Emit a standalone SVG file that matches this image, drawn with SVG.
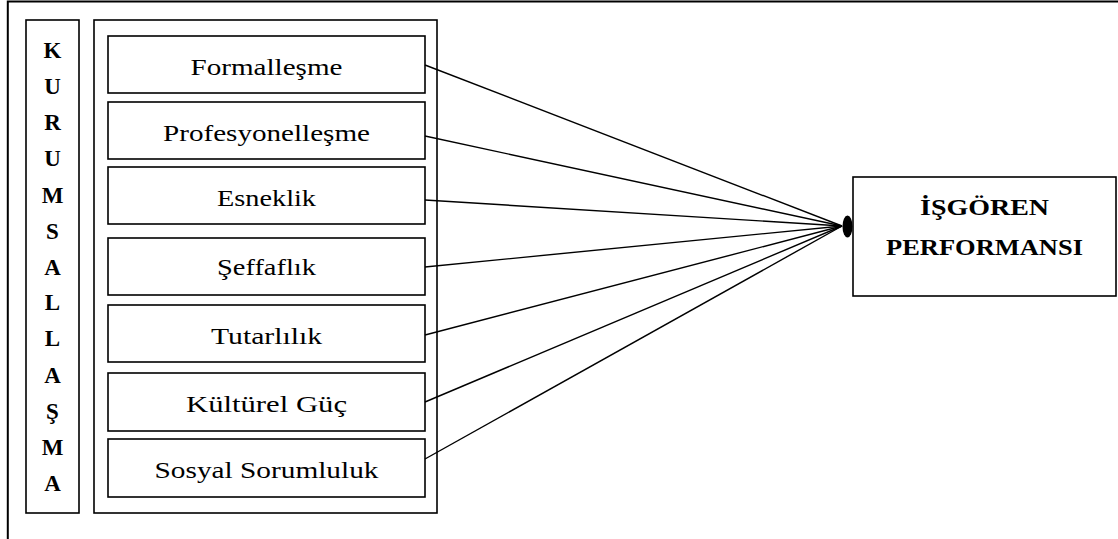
<svg xmlns="http://www.w3.org/2000/svg" width="1118" height="539" viewBox="0 0 1118 539">
<style>
.box{fill:#fff;stroke:#000;stroke-width:1.6}
.frame{fill:none;stroke:#000;stroke-width:2}
.item{font-family:"Liberation Serif","Times New Roman",serif;font-size:23px;fill:#000;text-anchor:middle}
.bold{font-family:"Liberation Serif","Times New Roman",serif;font-size:23px;font-weight:bold;fill:#000;text-anchor:middle}
.conn{stroke:#000;stroke-width:1.4;fill:none}
</style>
<rect width="1118" height="539" fill="#fff"/>
<g id="frame">
<polyline class="frame" points="7.8,539 7.8,1.5 1118,1.5"/>
</g>
<g id="kurumsallasma">
<rect class="box" x="26" y="20" width="53" height="493"/>
<text class="bold" x="52.5" y="58">K</text>
<text class="bold" x="52.5" y="94">U</text>
<text class="bold" x="52.5" y="130">R</text>
<text class="bold" x="52.5" y="166">U</text>
<text class="bold" x="52.5" y="203">M</text>
<text class="bold" x="52.5" y="239">S</text>
<text class="bold" x="52.5" y="275">A</text>
<text class="bold" x="52.5" y="310">L</text>
<text class="bold" x="52.5" y="346">L</text>
<text class="bold" x="52.5" y="383">A</text>
<text class="bold" x="52.5" y="419">Ş</text>
<text class="bold" x="52.5" y="455">M</text>
<text class="bold" x="52.5" y="491">A</text>
</g>
<g id="dimensions">
<rect class="box" x="94" y="20" width="343" height="493"/>
</g>
<g id="formallesme">
<rect class="box" x="108" y="36" width="317" height="57"/>
<text class="item" x="266.5" y="75" textLength="152" lengthAdjust="spacingAndGlyphs">Formalleşme</text>
</g>
<g id="profesyonellesme">
<rect class="box" x="108" y="102" width="317" height="57"/>
<text class="item" x="266.5" y="141" textLength="207" lengthAdjust="spacingAndGlyphs">Profesyonelleşme</text>
</g>
<g id="esneklik">
<rect class="box" x="108" y="167" width="317" height="57"/>
<text class="item" x="266.5" y="206" textLength="99" lengthAdjust="spacingAndGlyphs">Esneklik</text>
</g>
<g id="seffaflik">
<rect class="box" x="108" y="238" width="317" height="57"/>
<text class="item" x="266.5" y="275" textLength="99" lengthAdjust="spacingAndGlyphs">Şeffaflık</text>
</g>
<g id="tutarlilik">
<rect class="box" x="108" y="305" width="317" height="57"/>
<text class="item" x="266.5" y="344" textLength="111" lengthAdjust="spacingAndGlyphs">Tutarlılık</text>
</g>
<g id="kulturel-guc">
<rect class="box" x="108" y="373" width="317" height="58"/>
<text class="item" x="266.5" y="412" textLength="161" lengthAdjust="spacingAndGlyphs">Kültürel Güç</text>
</g>
<g id="sosyal-sorumluluk">
<rect class="box" x="108" y="439" width="317" height="58"/>
<text class="item" x="266.5" y="478" textLength="224" lengthAdjust="spacingAndGlyphs">Sosyal Sorumluluk</text>
</g>
<g id="connectors">
<line class="conn" x1="425" y1="65" x2="842" y2="226"/>
<line class="conn" x1="425" y1="136" x2="842" y2="226"/>
<line class="conn" x1="425" y1="200" x2="842" y2="226"/>
<line class="conn" x1="425" y1="267" x2="842" y2="226"/>
<line class="conn" x1="425" y1="335" x2="842" y2="226"/>
<line class="conn" x1="425" y1="402" x2="842" y2="226"/>
<line class="conn" x1="425" y1="459" x2="842" y2="226"/>
<ellipse cx="847.5" cy="226.5" rx="5" ry="11" fill="#000"/>
</g>
<g id="isgoren-performansi">
<rect class="box" x="853" y="177" width="263" height="119"/>
<text class="bold" x="984.5" y="215" textLength="129" lengthAdjust="spacingAndGlyphs">İŞGÖREN</text>
<text class="bold" x="984.5" y="255" textLength="197" lengthAdjust="spacingAndGlyphs">PERFORMANSI</text>
</g>
</svg>
